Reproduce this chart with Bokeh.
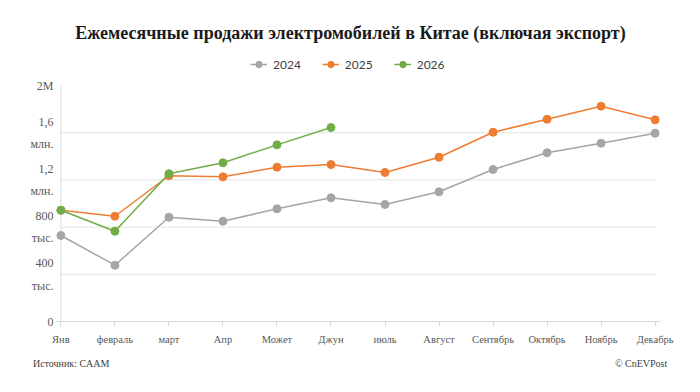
from bokeh.plotting import figure
from bokeh.models import (Range1d, FixedTicker, Legend, LegendItem, Label,
                          LinearAxis)
from bokeh.embed import file_html
from bokeh.resources import INLINE

# Monthly NEV sales in China, units (incl. exports)
months = ["Янв", "февраль", "март", "Апр", "Может", "Джун", "июль",
          "Август", "Сентябрь", "Октябрь", "Ноябрь", "Декабрь"]
sales_2024 = [729000, 477000, 884000, 850000, 955000, 1048000,
              992000, 1099000, 1288000, 1430000, 1511000, 1596000]
sales_2025 = [943000, 892000, 1235000, 1226000, 1308000, 1330000,
              1263000, 1392000, 1604000, 1714000, 1825000, 1709000]
sales_2026 = [943000, 765000, 1252000, 1345000, 1497000, 1644000]

y_ticks = [0, 400000, 800000, 1200000, 1600000, 2000000]
y_tick_labels = ["0", "400\nтыс.", "800\nтыс.", "1,2\nмлн.", "1,6\nмлн.", "2M"]

series = [("2024", sales_2024, "#a5a5a5"),
          ("2025", sales_2025, "#ed7d31"),
          ("2026", sales_2026, "#70ad47")]

TITLE = "Ежемесячные продажи электромобилей в Китае (включая экспорт)"
SOURCE = "Источник: CAAM"
CREDIT = "© CnEVPost"

SERIF = "Liberation Serif"
AXIS_TEXT = "#595959"
GRID = "#e3e3e3"
AXIS_LINE = "#d9d9d9"

# the plotting frame reaches the top of the page, so the title and the
# legend sit inside it above the 2M level
last = len(months) - 1
y_top = y_ticks[-1] * 321 / 236

p = figure(width=700, height=392, output_backend="svg", toolbar_location=None,
           x_range=Range1d(-0.1, last + 0.1),
           y_range=Range1d(y_ticks[0], y_top),
           min_border_left=55, min_border_right=40,
           min_border_top=0, min_border_bottom=71)
p.outline_line_color = None
p.background_fill_color = "white"
p.border_fill_color = "white"
p.xgrid.visible = False
p.ygrid.visible = False

# horizontal gridlines and the value-axis line, first to last month
grid_vals = y_ticks[1:-1]
p.segment(x0=[0] * len(grid_vals), x1=[last] * len(grid_vals),
          y0=grid_vals, y1=grid_vals, line_color=GRID, line_width=1)
p.segment(x0=[0], x1=[0], y0=[y_ticks[0]], y1=[y_ticks[-1]],
          line_color=AXIS_LINE, line_width=1)

# x axis
p.xaxis.ticker = FixedTicker(ticks=list(range(len(months))))
p.xaxis.major_label_overrides = {i: m for i, m in enumerate(months)}
p.xaxis.axis_line_color = AXIS_LINE
p.xaxis.major_tick_line_color = AXIS_LINE
p.xaxis.major_tick_out = 5
p.xaxis.major_tick_in = 0
p.xaxis.minor_tick_line_color = None
p.xaxis.major_label_standoff = 7
p.xaxis.major_label_text_font = SERIF
p.xaxis.major_label_text_font_size = "10.5px"
p.xaxis.major_label_text_color = AXIS_TEXT

# y axis
p.yaxis.ticker = FixedTicker(ticks=y_ticks)
p.yaxis.major_label_overrides = dict(zip(y_ticks, y_tick_labels))
p.yaxis.axis_line_color = None
p.yaxis.major_tick_line_color = None
p.yaxis.minor_tick_line_color = None
p.yaxis.major_tick_out = 0
p.yaxis.major_tick_in = 0
p.yaxis.major_label_standoff = 2
p.yaxis.major_label_text_font = SERIF
p.yaxis.major_label_text_font_size = "12px"
p.yaxis.major_label_text_line_height = 1.6
p.yaxis.major_label_text_color = AXIS_TEXT

# footer line: source on the left, credit on the right
source_x, credit_x = 0.19, 10.74
footer = LinearAxis(ticker=FixedTicker(ticks=[source_x, credit_x]),
                    major_label_overrides={source_x: SOURCE, credit_x: CREDIT},
                    axis_line_color=None, major_tick_line_color=None,
                    minor_tick_line_color=None, major_tick_out=0, major_tick_in=0,
                    major_label_standoff=10,
                    major_label_text_font=SERIF,
                    major_label_text_font_size="10px",
                    major_label_text_color="#404040")
p.add_layout(footer, "below")

items = []
for name, vals, color in series:
    xs = list(range(len(vals)))
    ln = p.line(xs, vals, line_color=color, line_width=1.5)
    sc = p.scatter(xs, vals, size=8, fill_color=color, line_color=color)
    items.append(LegendItem(label=name, renderers=[ln, sc]))

legend = Legend(items=items, orientation="horizontal", location=(195, 249),
                border_line_color=None, background_fill_alpha=0,
                padding=0, margin=0, spacing=21, label_standoff=6,
                glyph_width=17, glyph_height=16, label_height=16,
                label_text_font="Lato", label_text_font_size="12px",
                label_text_color="#404040")
p.add_layout(legend, "center")

p.add_layout(Label(x=5.36, y=2449000, text=TITLE,
                   text_align="center", text_baseline="middle",
                   text_font=SERIF, text_font_style="bold", text_font_size="18px",
                   text_color="#1a1a1a"))

open("out.html", "w").write(file_html(p, INLINE))
